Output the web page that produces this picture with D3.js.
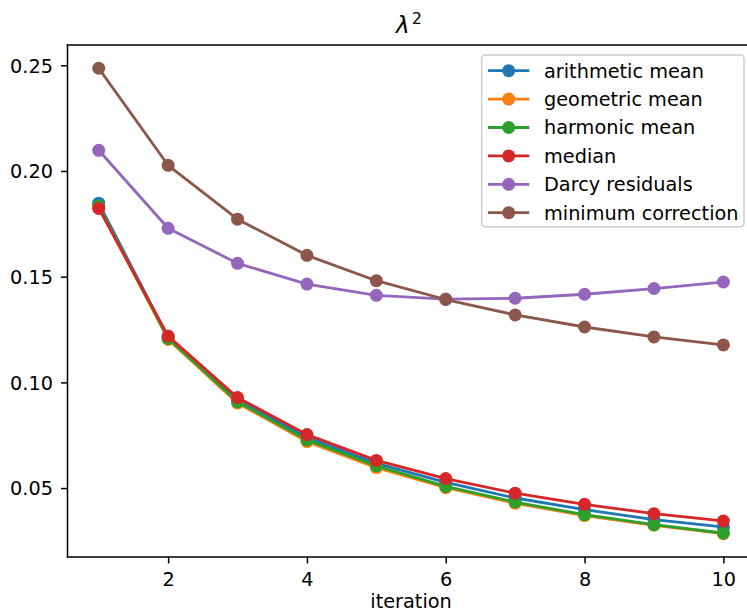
<!DOCTYPE html>
<html>
<head>
<meta charset="utf-8">
<script src="https://cdn.jsdelivr.net/npm/d3@7"></script>
<style>
  html, body { margin: 0; padding: 0; background: #fff; }
  svg { display: block; font-family: "DejaVu Sans", sans-serif; }
</style>
</head>
<body>
<svg id="chart" width="747" height="613"></svg>
<script>
const iterations = [1, 2, 3, 4, 5, 6, 7, 8, 9, 10];
const seriesNames = ["arithmetic mean", "geometric mean", "harmonic mean", "median", "Darcy residuals", "minimum correction"];
const seriesColors = ["#1f77b4", "#ff7f0e", "#2ca02c", "#d62728", "#9467bd", "#8c564b"];
const arithmeticMean = [0.1848, 0.1213, 0.0917, 0.0740, 0.0617, 0.0527, 0.0453, 0.0398, 0.0351, 0.0316];
const geometricMean  = [0.1832, 0.1203, 0.0902, 0.0720, 0.0597, 0.0502, 0.0428, 0.0370, 0.0324, 0.0284];
const harmonicMean   = [0.1835, 0.1208, 0.0908, 0.0728, 0.0605, 0.0508, 0.0434, 0.0374, 0.0327, 0.0287];
const median         = [0.1823, 0.1219, 0.0928, 0.0753, 0.0631, 0.0545, 0.0476, 0.0423, 0.0379, 0.0344];
const darcyResiduals = [0.2098, 0.1729, 0.1563, 0.1465, 0.1412, 0.1394, 0.1398, 0.1417, 0.1444, 0.1475];
const minimumCorrection = [0.2486, 0.2027, 0.1772, 0.1601, 0.1481, 0.1392, 0.1319, 0.1262, 0.1215, 0.1177];
const xTicks = [2, 4, 6, 8, 10];
const yTicks = [0.05, 0.10, 0.15, 0.20, 0.25];
const yTickLabels = ["0.05", "0.10", "0.15", "0.20", "0.25"];
const titleBase = "λ";
const titleSup = "2";
const xLabel = "iteration";

const allSeries = [arithmeticMean, geometricMean, harmonicMean, median, darcyResiduals, minimumCorrection];

(function () {
const svg = d3.select("#chart");
const pLeft = 67.5, pRight = 754.6, pTop = 45, pBottom = 557;
const fs = 19.3;

const xmin = d3.min(iterations), xmax = d3.max(iterations);
const xm = (xmax - xmin) * 0.05;
const x = d3.scaleLinear().domain([xmin - xm, xmax + xm]).range([pLeft, pRight]);
const allVals = allSeries.flat();
const ymin = d3.min(allVals), ymax = d3.max(allVals);
const ym = (ymax - ymin) * 0.05;
const y = d3.scaleLinear().domain([ymin - ym, ymax + ym]).range([pBottom, pTop]);

svg.append("clipPath").attr("id", "clip").append("rect")
  .attr("x", pLeft).attr("y", pTop).attr("width", pRight - pLeft).attr("height", pBottom - pTop);

const plot = svg.append("g").attr("clip-path", "url(#clip)");
const line = d3.line().x((d, i) => x(iterations[i])).y(d => y(d));

allSeries.forEach((vals, k) => {
  const g = plot.append("g");
  g.append("path").attr("d", line(vals)).attr("fill", "none")
    .attr("stroke", seriesColors[k]).attr("stroke-width", 2.8)
    .attr("stroke-linejoin", "round").attr("stroke-linecap", "square");
  g.selectAll("circle").data(vals).enter().append("circle")
    .attr("cx", (d, i) => x(iterations[i])).attr("cy", d => y(d))
    .attr("r", 6.5).attr("fill", seriesColors[k]);
});

// spines
const spine = svg.append("g").attr("stroke", "#000").attr("stroke-width", 1.5).attr("fill", "none");
spine.append("line").attr("x1", pLeft).attr("x2", pLeft).attr("y1", pTop - 0.75).attr("y2", pBottom + 0.75);
spine.append("line").attr("x1", pLeft - 0.75).attr("x2", pRight).attr("y1", pBottom).attr("y2", pBottom);
spine.append("line").attr("x1", pLeft - 0.75).attr("x2", pRight).attr("y1", pTop).attr("y2", pTop);
spine.append("line").attr("x1", pRight).attr("x2", pRight).attr("y1", pTop).attr("y2", pBottom);

// x axis
const xAxis = d3.axisBottom(x).tickValues(xTicks).tickSize(6.5).tickPadding(6.5).tickFormat(d3.format("d"));
const gx = svg.append("g").attr("transform", `translate(0,${pBottom})`).call(xAxis);
gx.select(".domain").remove();
gx.selectAll(".tick line").attr("stroke", "#000").attr("stroke-width", 1.5);
gx.selectAll(".tick text").attr("font-size", fs).attr("font-family", "DejaVu Sans").attr("fill", "#000")
  .attr("dy", null).attr("y", 29.3);

// y axis
const yAxis = d3.axisLeft(y).tickValues(yTicks).tickSize(6.5).tickPadding(6.5)
  .tickFormat((d, i) => yTickLabels[i]);
const gy = svg.append("g").attr("transform", `translate(${pLeft},0)`).call(yAxis);
gy.select(".domain").remove();
gy.selectAll(".tick line").attr("stroke", "#000").attr("stroke-width", 1.5);
gy.selectAll(".tick text").attr("font-size", fs).attr("font-family", "DejaVu Sans").attr("fill", "#000")
  .attr("dy", null).attr("y", 6.9).attr("x", -14.5);

// x label
svg.append("text").attr("x", (pLeft + pRight) / 2).attr("y", 607.5).attr("text-anchor", "middle")
  .attr("font-size", fs).attr("fill", "#000").text(xLabel);

// title
const title = svg.append("text").attr("x", 409).attr("y", 33).attr("text-anchor", "middle")
  .attr("font-size", 23).attr("fill", "#000");
title.append("tspan").attr("font-style", "italic").text(titleBase);
title.append("tspan").attr("font-size", 16).attr("dy", -9).attr("dx", 2).text(titleSup);

// legend
const lg = svg.append("g");
lg.append("rect").attr("x", 481.7).attr("y", 55).attr("width", 262.3).attr("height", 171.7)
  .attr("rx", 3.5).attr("fill", "#fff").attr("fill-opacity", 0.8)
  .attr("stroke", "#cccccc").attr("stroke-width", 1.5);
seriesNames.forEach((name, k) => {
  const cy = 70.7 + k * 28.4;
  lg.append("line").attr("x1", 488).attr("x2", 529.3).attr("y1", cy).attr("y2", cy)
    .attr("stroke", seriesColors[k]).attr("stroke-width", 2.8);
  lg.append("circle").attr("cx", 508.7).attr("cy", cy).attr("r", 6.5).attr("fill", seriesColors[k]);
  lg.append("text").attr("x", 544).attr("y", cy + 6.9).attr("font-size", fs).attr("fill", "#000").text(name);
});
})();
</script>
</body>
</html>
